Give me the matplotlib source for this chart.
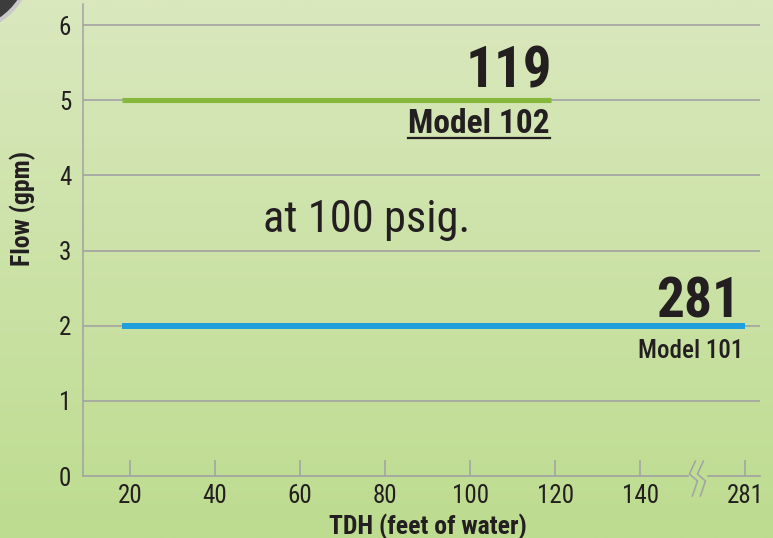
import numpy as np
import matplotlib
matplotlib.use('Agg')
import matplotlib.pyplot as plt
from matplotlib.patches import Circle
from matplotlib.lines import Line2D
from matplotlib.transforms import IdentityTransform, blended_transform_factory

plt.rcParams['font.family'] = ['Roboto Condensed', 'DejaVu Sans']

# data
models = ['Model 101', 'Model 102']
flow_gpm = [2, 5]
tdh_start = [18, 18]
tdh_max = [281, 119]
line_colors = ['#1fa0dc', '#86b83e']

xtick_values = [20, 40, 60, 80, 100, 120, 140, 281]
ytick_values = [0, 1, 2, 3, 4, 5, 6]
break_value = 140      # axis is broken after this
pos_281 = 164.7        # where 281 sits on the broken axis
break_pos = 153.6


def xpos(v):
    # map TDH to position on the broken axis
    return v if v <= break_value else pos_281


W, H = 773, 538
fig = plt.figure(figsize=(W / 100, H / 100), dpi=100)

# gradient background
bg = fig.add_axes([0, 0, 1, 1], zorder=-10)
top = np.array([218, 232, 190]) / 255
bot = np.array([189, 220, 143]) / 255
t = np.linspace(0, 1, 256)[:, None]
grad = top[None, :] * (1 - t) + bot[None, :] * t
bg.imshow(grad[:, None, :], aspect='auto', extent=[0, 1, 0, 1])
bg.axis('off')

ax = fig.add_axes([83 / W, 1 - 476 / H, (760 - 83) / W, (476 - 4) / H])
ax.patch.set_alpha(0)

gray = '#a2a2a2'
ink = '#231f20'
for y in ytick_values[1:]:
    ax.axhline(y, color=gray, lw=1.2, zorder=1)

widths = [4.3, 3.7]
for i in range(len(models)):
    ax.plot([xpos(tdh_start[i]), xpos(tdh_max[i])], [flow_gpm[i], flow_gpm[i]],
            color=line_colors[i], lw=widths[i], solid_capstyle='butt', zorder=3)

ax.set_xlim(8.94, 168.2)
ax.set_ylim(0, 6.28)

ax.set_xticks([xpos(v) for v in xtick_values])
ax.set_xticklabels([str(v) for v in xtick_values])
ax.set_yticks(ytick_values)
ax.tick_params(axis='x', direction='in', length=11.5, width=1.1, color=gray,
               labelsize=18, pad=6, labelcolor=ink)
ax.tick_params(axis='y', length=0, labelsize=18, pad=8.5, labelcolor=ink)

for s in ['top', 'right', 'bottom']:
    ax.spines[s].set_visible(False)
ax.spines['left'].set_color(gray)
ax.spines['left'].set_linewidth(1.1)

# bottom axis line with a gap for the break
tr = blended_transform_factory(ax.transData, ax.transAxes)
ax.plot([8.94, break_pos - 2.4], [0, 0], color=gray, lw=1.2, transform=tr, clip_on=False)
ax.plot([break_pos + 2.3, 168.2], [0, 0], color=gray, lw=1.2, transform=tr, clip_on=False)

ax.set_xlabel('TDH (feet of water)', fontsize=18.5, fontweight='bold', color=ink)
ax.xaxis.set_label_coords(0.5096, -0.079)
ax.set_ylabel('Flow (gpm)', fontsize=18.5, fontweight='bold', color=ink)
ax.yaxis.set_label_coords(-0.0886, 0.566)
ax.yaxis.label.set_va('center')

# labels
ax.text(119.4, 5.173, str(tdh_max[1]), ha='right', va='baseline', fontsize=41,
        fontweight='bold', color=ink)
m102 = ax.text(118.8, 4.56, models[1], ha='right', va='baseline', fontsize=24,
               fontweight='bold', color=ink)
ax.text(163.6, 2.107, str(tdh_max[0]), ha='right', va='baseline', fontsize=40,
        fontweight='bold', color=ink)
ax.text(164.2, 1.573, models[0], ha='right', va='baseline', fontsize=18,
        fontweight=500, color=ink)
ax.text(51.3, 3.24, 'at 100 psig.', ha='left', va='baseline', fontsize=32, color=ink)

# underline under Model 102
fig.canvas.draw()
bb = m102.get_window_extent()
x0, _ = ax.transData.inverted().transform((bb.x0, 0))
x1, _ = ax.transData.inverted().transform((bb.x1, 0))
ax.plot([x0, x1], [4.493, 4.493], color=ink, lw=1.6, clip_on=False)

# break symbol, drawn in pixels around the break
bx, by = ax.transData.transform((break_pos, 0))
for dx in (-4.5, 3.5):
    xs = np.array([2, -4, 4, -1]) + dx
    ys = np.array([15, 2, -5, -20])
    fig.add_artist(Line2D(bx + xs, by + ys, color=gray, lw=1.1, transform=IdentityTransform()))

# dark disc peeking in at the top-left corner
fig.add_artist(Circle((-40, H + 40), 72, facecolor='#3c3c3c', edgecolor='#c9c9c9',
                      lw=3, transform=IdentityTransform(), zorder=5))

fig.savefig('out.png', dpi=100)
